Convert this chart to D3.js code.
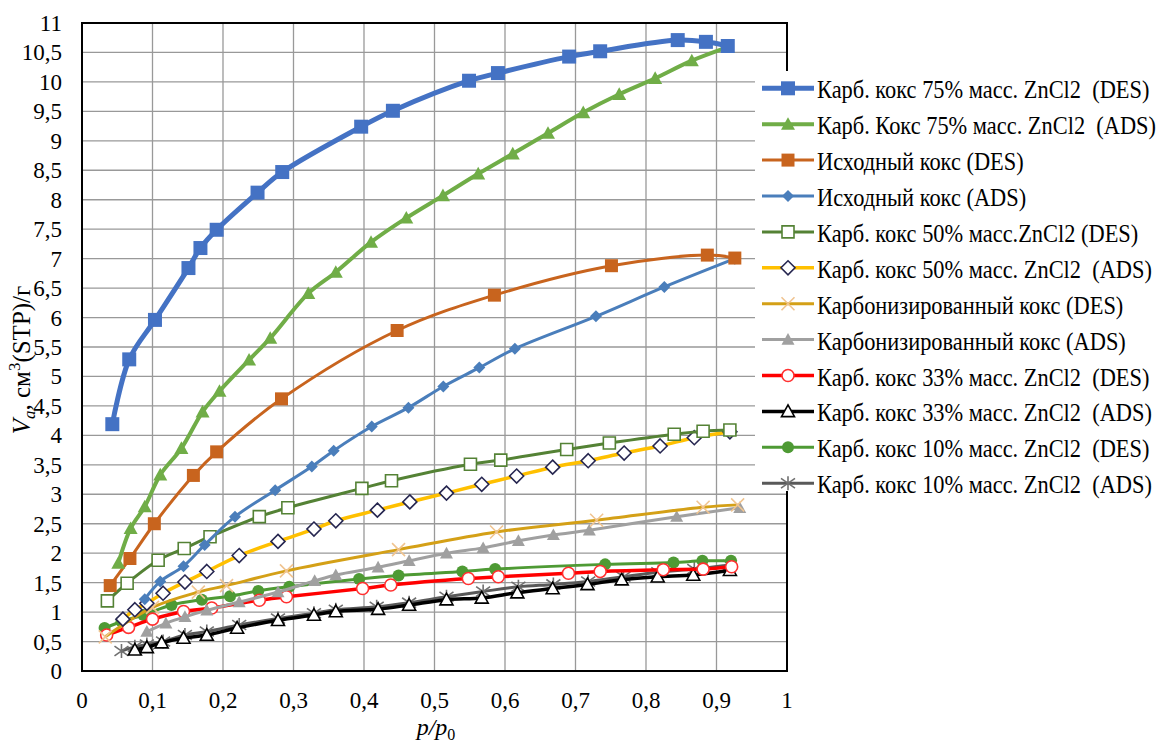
<!DOCTYPE html>
<html>
<head>
<meta charset="utf-8">
<script src="https://cdn.jsdelivr.net/npm/d3@7"></script>
<style>
  body { margin: 0; background: #fff; }
  text { font-family: "Liberation Serif", "Times New Roman", serif; fill: #000; }
</style>
</head>
<body>
<svg id="chart" width="1163" height="747"></svg>
<script>
// values
const xTicks = [0, 0.1, 0.2, 0.3, 0.4, 0.5, 0.6, 0.7, 0.8, 0.9, 1]
const yTicks = d3.range(0, 11.01, 0.5)

const s1x = [0.043, 0.067, 0.1035, 0.151, 0.168, 0.191, 0.249, 0.284, 0.396, 0.441, 0.549, 0.590, 0.691, 0.735, 0.845, 0.885, 0.916]
const s1y = [4.19, 5.29, 5.96, 6.84, 7.18, 7.49, 8.12, 8.47, 9.24, 9.51, 10.02, 10.15, 10.43, 10.52, 10.71, 10.68, 10.61]

const s2x = [0.0515, 0.069, 0.089, 0.111, 0.141, 0.171, 0.195, 0.237, 0.267, 0.321, 0.36, 0.410, 0.460, 0.512, 0.562, 0.611, 0.661, 0.711, 0.762, 0.813, 0.865, 0.916]
const s2y = [1.83, 2.42, 2.79, 3.33, 3.78, 4.40, 4.75, 5.28, 5.65, 6.41, 6.77, 7.28, 7.69, 8.07, 8.44, 8.78, 9.13, 9.48, 9.79, 10.06, 10.36, 10.59]

const s3x = [0.040, 0.068, 0.1026, 0.158, 0.191, 0.283, 0.447, 0.585, 0.751, 0.887, 0.926]
const s3y = [1.45, 1.91, 2.50, 3.32, 3.72, 4.62, 5.78, 6.38, 6.88, 7.06, 7.01]

const s4x = [0.089, 0.111, 0.144, 0.174, 0.217, 0.274, 0.326, 0.357, 0.411, 0.463, 0.5125, 0.5636, 0.614, 0.729, 0.826, 0.926]
const s4y = [1.22, 1.52, 1.78, 2.14, 2.62, 3.07, 3.47, 3.74, 4.15, 4.47, 4.83, 5.15, 5.47, 6.02, 6.52, 7.0]

const s5x = [0.036, 0.064, 0.108, 0.145, 0.1816, 0.2515, 0.292, 0.397, 0.439, 0.551, 0.594, 0.6875, 0.748, 0.840, 0.881, 0.919]
const s5y = [1.19, 1.49, 1.88, 2.08, 2.28, 2.62, 2.77, 3.10, 3.23, 3.51, 3.58, 3.76, 3.87, 4.02, 4.07, 4.09]

const s6x = [0.058, 0.075, 0.092, 0.115, 0.146, 0.177, 0.223, 0.278, 0.329, 0.360, 0.419, 0.465, 0.517, 0.567, 0.6165, 0.6676, 0.718, 0.769, 0.820, 0.8685, 0.919]
const s6y = [0.88, 1.04, 1.15, 1.32, 1.51, 1.69, 1.96, 2.20, 2.41, 2.55, 2.73, 2.87, 3.02, 3.17, 3.31, 3.46, 3.57, 3.70, 3.82, 3.96, 4.06]

const s7x = [0.033, 0.10, 0.165, 0.205, 0.290, 0.449, 0.588, 0.730, 0.881, 0.93]
const s7y = [0.58, 1.08, 1.34, 1.45, 1.70, 2.06, 2.36, 2.56, 2.78, 2.82]

const s8x = [0.092, 0.119, 0.146, 0.177, 0.223, 0.278, 0.330, 0.360, 0.420, 0.464, 0.517, 0.569, 0.619, 0.6686, 0.7196, 0.8435, 0.933]
const s8y = [0.67, 0.81, 0.92, 1.03, 1.17, 1.34, 1.53, 1.63, 1.76, 1.87, 2.00, 2.09, 2.21, 2.31, 2.39, 2.62, 2.77]

const s9x = [0.035, 0.066, 0.10, 0.144, 0.184, 0.2515, 0.290, 0.398, 0.438, 0.548, 0.5905, 0.690, 0.735, 0.8245, 0.881, 0.9215]
const s9y = [0.61, 0.74, 0.88, 1.01, 1.07, 1.20, 1.26, 1.40, 1.46, 1.57, 1.60, 1.66, 1.69, 1.72, 1.73, 1.77]

const s10x = [0.075, 0.092, 0.113, 0.144, 0.177, 0.220, 0.278, 0.329, 0.360, 0.420, 0.464, 0.517, 0.567, 0.6175, 0.6676, 0.717, 0.7655, 0.8166, 0.867, 0.919]
const s10y = [0.36, 0.40, 0.48, 0.56, 0.61, 0.73, 0.86, 0.95, 1.01, 1.05, 1.12, 1.21, 1.24, 1.33, 1.40, 1.47, 1.55, 1.60, 1.63, 1.71]

const s11x = [0.032, 0.056, 0.087, 0.127, 0.170, 0.210, 0.250, 0.294, 0.393, 0.449, 0.5395, 0.586, 0.742, 0.839, 0.880, 0.9206]
const s11y = [0.73, 0.84, 0.95, 1.12, 1.21, 1.27, 1.36, 1.43, 1.56, 1.62, 1.69, 1.73, 1.81, 1.84, 1.87, 1.87]

const s12x = [0.056, 0.075, 0.092, 0.115, 0.146, 0.177, 0.223, 0.278, 0.329, 0.360, 0.418, 0.464, 0.517, 0.569, 0.619, 0.6686, 0.718, 0.768, 0.8175, 0.8685, 0.919]
const s12y = [0.34, 0.41, 0.45, 0.50, 0.61, 0.67, 0.78, 0.89, 0.98, 1.04, 1.09, 1.16, 1.26, 1.35, 1.43, 1.47, 1.52, 1.60, 1.675, 1.73, 1.80]

const seriesNames = [
    "Карб. кокс 75% масс. ZnCl2  (DES)",
    "Карб. Кокс 75% масс. ZnCl2  (ADS)",
    "Исходный кокс (DES)",
    "Исходный кокс (ADS)",
    "Карб. кокс 50% масс.ZnCl2 (DES)",
    "Карб. кокс 50% масс. ZnCl2  (ADS)",
    "Карбонизированный кокс (DES)",
    "Карбонизированный кокс (ADS)",
    "Карб. кокс 33% масс. ZnCl2  (DES)",
    "Карб. кокс 33% масс. ZnCl2  (ADS)",
    "Карб. кокс 10% масс. ZnCl2  (DES)",
    "Карб. кокс 10% масс. ZnCl2  (ADS)",
]
const seriesX = [s1x, s2x, s3x, s4x, s5x, s6x, s7x, s8x, s9x, s10x, s11x, s12x]
const seriesY = [s1y, s2y, s3y, s4y, s5y, s6y, s7y, s8y, s9y, s10y, s11y, s12y]

// look of each series: line colour, width, marker
const styles = [
    { line: "#4472c4", w: 5, m: "square", size: 14, fill: "#4472c4", stroke: "none" },
    { line: "#70ad47", w: 4, m: "triangle", size: 14, fill: "#70ad47", stroke: "none" },
    { line: "#c8641e", w: 3, m: "square", size: 13, fill: "#c8641e", stroke: "none" },
    { line: "#4a7ebb", w: 3, m: "diamond", size: 12, fill: "#4a7ebb", stroke: "none" },
    { line: "#548235", w: 3, m: "square", size: 12, fill: "none", stroke: "#548235" },
    { line: "#ffc000", w: 3.5, m: "diamond", size: 14, fill: "none", stroke: "#262650" },
    { line: "#d4a017", w: 3, m: "cross", size: 13, fill: "none", stroke: "#f0c490" },
    { line: "#a0a0a0", w: 3, m: "triangle", size: 13, fill: "#a0a0a0", stroke: "none" },
    { line: "#ff0000", w: 3.5, m: "circle", size: 12, fill: "none", stroke: "#ff3030" },
    { line: "#000000", w: 3.5, m: "triangle", size: 13, fill: "none", stroke: "#000" },
    { line: "#4e9a34", w: 3, m: "circle", size: 12, fill: "#4e9a34", stroke: "none" },
    { line: "#595959", w: 3, m: "star", size: 14, fill: "none", stroke: "#707070" },
]

const width = 1163
const height = 747
const plotL = 82, plotR = 787, plotT = 23, plotB = 671

const fmt = d3.formatLocale({ decimal: ",", thousands: " ", grouping: [3], currency: ["", ""] }).format(".1~f")

const x = d3.scaleLinear().domain([0, 1]).range([plotL, plotR])
const y = d3.scaleLinear().domain([0, 11]).range([plotB, plotT])

const svg = d3.select('#chart')

svg.append('rect').attr('width', width).attr('height', height).attr('fill', '#fff')

// grid
svg.append('g')
    .selectAll('line')
    .data(xTicks.slice(1, -1))
    .join('line')
    .attr('x1', d => x(d)).attr('x2', d => x(d))
    .attr('y1', plotT).attr('y2', plotB)
    .attr('stroke', '#999').attr('stroke-width', 1.3)

svg.append('g')
    .selectAll('line')
    .data(yTicks.slice(1, -1))
    .join('line')
    .attr('x1', plotL).attr('x2', plotR)
    .attr('y1', d => y(d)).attr('y2', d => y(d))
    .attr('stroke', '#999').attr('stroke-width', 1.3)

// tick labels
svg.append('g')
    .selectAll('text')
    .data(xTicks)
    .join('text')
    .attr('x', d => x(d))
    .attr('y', 708)
    .attr('text-anchor', 'middle')
    .attr('font-size', 23)
    .text(d => fmt(d))

svg.append('g')
    .selectAll('text')
    .data(yTicks)
    .join('text')
    .attr('x', 62)
    .attr('y', d => y(d) + 8)
    .attr('text-anchor', 'end')
    .attr('font-size', 23)
    .text(d => fmt(d))

// series
const line = d3.line()
    .x(d => x(d[0]))
    .y(d => y(d[1]))
    .curve(d3.curveCatmullRom.alpha(0.5))

const markerPath = (m, size) => {
    const r = size / 2
    if (m === 'cross') return `M${-r},${-r}L${r},${r}M${-r},${r}L${r},${-r}`
    if (m === 'star') return `M0,${-r}L0,${r}M${-r},${-r * 0.7}L${r},${r * 0.7}M${-r},${r * 0.7}L${r},${-r * 0.7}`
    if (m === 'square') return `M${-r},${-r}H${r}V${r}H${-r}Z`
    if (m === 'diamond') return `M0,${-r}L${r},0L0,${r}L${-r},0Z`
    if (m === 'triangle') return `M0,${-r}L${r},${r * 0.8}L${-r},${r * 0.8}Z`
    return d3.symbol(d3.symbolCircle, Math.PI * r * r)()
}

const drawMarker = (g, st) => {
    g.append('path')
        .attr('d', markerPath(st.m, st.size))
        .attr('fill', st.m === 'cross' || st.m === 'star' ? 'none' : (st.fill === 'none' ? '#fff' : st.fill))
        .attr('stroke', st.stroke)
        .attr('stroke-width', st.stroke === 'none' ? 0 : 1.6)
}

for (let i = seriesNames.length - 1; i >= 0; i--) {
    const pts = seriesX[i].map((v, k) => [v, seriesY[i][k]])
    const st = styles[i]
    const g = svg.append('g')
    g.append('path')
        .attr('d', line(pts))
        .attr('fill', 'none')
        .attr('stroke', st.line)
        .attr('stroke-width', st.w)
    g.selectAll('g')
        .data(pts)
        .join('g')
        .attr('transform', d => `translate(${x(d[0])},${y(d[1])})`)
        .each(function () { drawMarker(d3.select(this), st) })
}

// plot frame
svg.append('rect')
    .attr('x', plotL).attr('y', plotT)
    .attr('width', plotR - plotL).attr('height', plotB - plotT)
    .attr('fill', 'none').attr('stroke', '#000').attr('stroke-width', 2)

// legend, white box over the right of the plot
const legend = svg.append('g')
legend.append('rect')
    .attr('x', 755).attr('y', 71)
    .attr('width', 408).attr('height', 420)
    .attr('fill', '#fff')

const row = legend.selectAll('g')
    .data(seriesNames)
    .join('g')
    .attr('transform', (d, i) => `translate(788,${88.3 + i * 35.9})`)

row.append('line')
    .attr('x1', -26).attr('x2', 26)
    .attr('stroke', (d, i) => styles[i].line)
    .attr('stroke-width', (d, i) => styles[i].w)

row.each(function (d, i) { drawMarker(d3.select(this), styles[i]) })

row.append('text')
    .attr('transform', 'translate(29,10) scale(1,1.15)')
    .attr('font-size', 22.4)
    .style('white-space', 'pre')
    .text(d => d)

// axis titles
const yt = svg.append('text')
    .attr('transform', 'translate(30,360) rotate(-90)')
    .attr('text-anchor', 'middle')
    .attr('font-size', 25)
yt.append('tspan').attr('font-style', 'italic').text('V')
yt.append('tspan').attr('font-style', 'italic').attr('font-size', 17).attr('dy', 5).text('a')
yt.append('tspan').attr('dy', -5).text(', см')
yt.append('tspan').attr('font-size', 17).attr('dy', -10).text('3')
yt.append('tspan').attr('dy', 10).text('(STP)/г')

const xt = svg.append('text')
    .attr('x', 436)
    .attr('y', 735)
    .attr('text-anchor', 'middle')
    .attr('font-size', 24)
xt.append('tspan').attr('font-style', 'italic').text('p/p')
xt.append('tspan').attr('font-size', 16).attr('dy', 5).text('0')
</script>
</body>
</html>
